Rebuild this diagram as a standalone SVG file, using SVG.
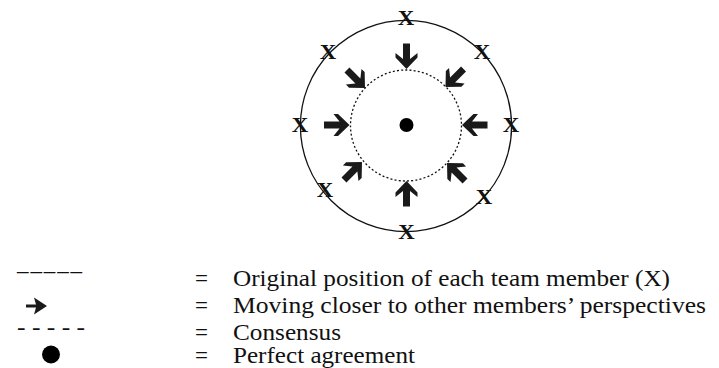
<svg xmlns="http://www.w3.org/2000/svg" width="719" height="368" viewBox="0 0 719 368">
<style>
.x{font-family:"Liberation Serif","DejaVu Serif",serif;font-weight:bold;font-size:21px;fill:#111;text-anchor:middle}
.lg{font-family:"Liberation Serif","DejaVu Serif",serif;font-size:23px;fill:#111}
.arw{fill:#1a1a1a}
</style>
<defs>
<path id="bigArrow" d="M0,0 L-11.5,-11 L-16,-11 L-10,-3.5 L-25.5,-3.5 L-25.5,3.5 L-10,3.5 L-16,11 L-11.5,11 Z"/>
</defs>
<rect width="719" height="368" fill="#fff"/>
<g id="outer-circle"><circle cx="406" cy="126" r="105.6" fill="none" stroke="#111" stroke-width="1.3"/></g>
<g id="consensus-circle"><circle cx="406" cy="125.5" r="55.5" fill="none" stroke="#111" stroke-width="1.3" stroke-dasharray="2 2.2"/></g>
<g id="agreement-dot"><circle cx="406.5" cy="125" r="7"/></g>
<g id="members">
<text class="x" x="406" y="24.5" textLength="16.5" lengthAdjust="spacingAndGlyphs">X</text>
<text class="x" x="328" y="58.5" textLength="16.5" lengthAdjust="spacingAndGlyphs">X</text>
<text class="x" x="482" y="58.5" textLength="16.5" lengthAdjust="spacingAndGlyphs">X</text>
<text class="x" x="300" y="131.5" textLength="16.5" lengthAdjust="spacingAndGlyphs">X</text>
<text class="x" x="511" y="131.5" textLength="16.5" lengthAdjust="spacingAndGlyphs">X</text>
<text class="x" x="325" y="196.5" textLength="16.5" lengthAdjust="spacingAndGlyphs">X</text>
<text class="x" x="484" y="203.5" textLength="16.5" lengthAdjust="spacingAndGlyphs">X</text>
<text class="x" x="406.5" y="238.5" textLength="16.5" lengthAdjust="spacingAndGlyphs">X</text>
</g>
<g id="connectors" class="arw">
<use href="#bigArrow" transform="translate(406.5,69) rotate(90)"/>
<use href="#bigArrow" transform="translate(406.5,181) rotate(-90)"/>
<use href="#bigArrow" transform="translate(349.5,125) rotate(0)"/>
<use href="#bigArrow" transform="translate(462,125) rotate(180)"/>
<use href="#bigArrow" transform="translate(365,88) rotate(45)"/>
<use href="#bigArrow" transform="translate(445.5,87) rotate(135)"/>
<use href="#bigArrow" transform="translate(362,162) rotate(-45)"/>
<use href="#bigArrow" transform="translate(447,163) rotate(-135)"/>
</g>
<g id="legend">
<text class="lg" font-family="Liberation Serif, serif" x="17" y="270" textLength="65" lengthAdjust="spacing">_____</text>
<path class="arw" d="M47,306 L34,297.5 L36,304.4 L26,304.4 L26,307.6 L36,307.6 L34,314.5 Z"/>
<text class="lg" font-family="Liberation Serif, serif" x="17" y="334.5" textLength="68" lengthAdjust="spacingAndGlyphs">- - - - -</text>
<circle cx="51" cy="354.5" r="9"/>
<text class="lg" font-family="Liberation Serif, serif" x="195" y="286">=</text>
<text class="lg" font-family="Liberation Serif, serif" x="195" y="313">=</text>
<text class="lg" font-family="Liberation Serif, serif" x="195" y="340">=</text>
<text class="lg" font-family="Liberation Serif, serif" x="195" y="363">=</text>
<text class="lg" font-family="Liberation Serif, serif" x="233" y="286" textLength="437" lengthAdjust="spacingAndGlyphs">Original position of each team member (X)</text>
<text class="lg" font-family="Liberation Serif, serif" x="233" y="313" textLength="473" lengthAdjust="spacingAndGlyphs">Moving closer to other members’ perspectives</text>
<text class="lg" font-family="Liberation Serif, serif" x="233" y="340" textLength="108" lengthAdjust="spacingAndGlyphs">Consensus</text>
<text class="lg" font-family="Liberation Serif, serif" x="233" y="363" textLength="182" lengthAdjust="spacingAndGlyphs">Perfect agreement</text>
</g>
</svg>
